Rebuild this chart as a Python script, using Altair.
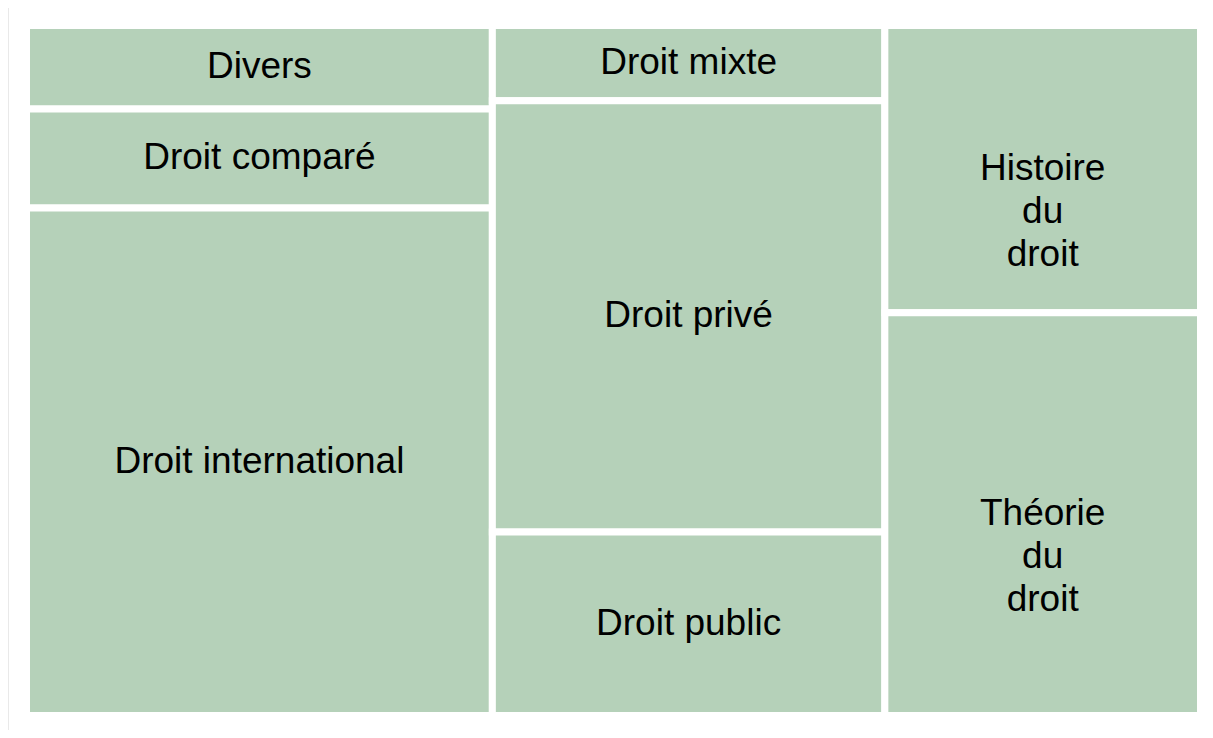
import altair as alt
import pandas as pd

categories = ["Divers", "Droit comparé", "Droit international",
              "Droit mixte", "Droit privé", "Droit public",
              "Histoire du droit", "Théorie du droit"]
labels = ["Divers", "Droit comparé", "Droit international",
          "Droit mixte", "Droit privé", "Droit public",
          "Histoire\ndu\ndroit", "Théorie\ndu\ndroit"]
values = [4.8, 5.7, 29.2, 3.65, 20.9, 8.9, 11.2, 15.7]
groups = [1, 1, 1, 2, 2, 2, 3, 3]

df = pd.DataFrame({"category": categories, "label": labels,
                   "value": values, "group": groups})

# slice-and-dice treemap layout computed from the values
total = df["value"].sum()
rows = []
x0 = 0.0
for g in sorted(df["group"].unique()):
    sub = df[df["group"] == g]
    gs = sub["value"].sum()
    w = gs / total
    y0 = 0.0
    for _, r in sub.iterrows():
        h = r["value"] / gs
        rows.append({"category": r["category"], "label": r["label"],
                     "value": r["value"], "x0": x0, "x1": x0 + w,
                     "y0": y0, "y1": y0 + h})
        y0 += h
    x0 += w
layout = pd.DataFrame(rows)
layout["xc"] = (layout["x0"] + layout["x1"]) / 2
layout["yc"] = (layout["y0"] + layout["y1"]) / 2

xs = alt.Scale(domain=[0, 1], range=[18.5, 1192.5])
ys = alt.Scale(domain=[0, 1], range=[17.5, 707.5])

base = alt.Chart(layout)

rects = base.mark_rect(fill="#b5d1b9", stroke="white", strokeWidth=7).encode(
    x=alt.X("x0:Q", scale=xs, axis=None),
    x2="x1:Q",
    y=alt.Y("y0:Q", scale=ys, axis=None),
    y2="y1:Q",
    tooltip=["category:N", "value:Q"],
)

texts = base.mark_text(
    font="Liberation Sans", fontSize=37, color="black",
    align="center", baseline="middle", lineBreak="\n", lineHeight=43,
).encode(
    x=alt.X("xc:Q", scale=xs, axis=None),
    y=alt.Y("yc:Q", scale=ys, axis=None),
    text="label:N",
)

edge = alt.Chart(pd.DataFrame({"k": [0]})).mark_rule(
    color="#e2e2e2", strokeWidth=1.5
).encode(x=alt.value(0), y=alt.value(0), y2=alt.value(730))

chart = alt.layer(edge, rects, texts).properties(
    width=1197, height=722, padding=0, autosize="none"
).configure_view(stroke=None)

chart.save("out.html", embed_options={"renderer": "svg", "actions": False})
